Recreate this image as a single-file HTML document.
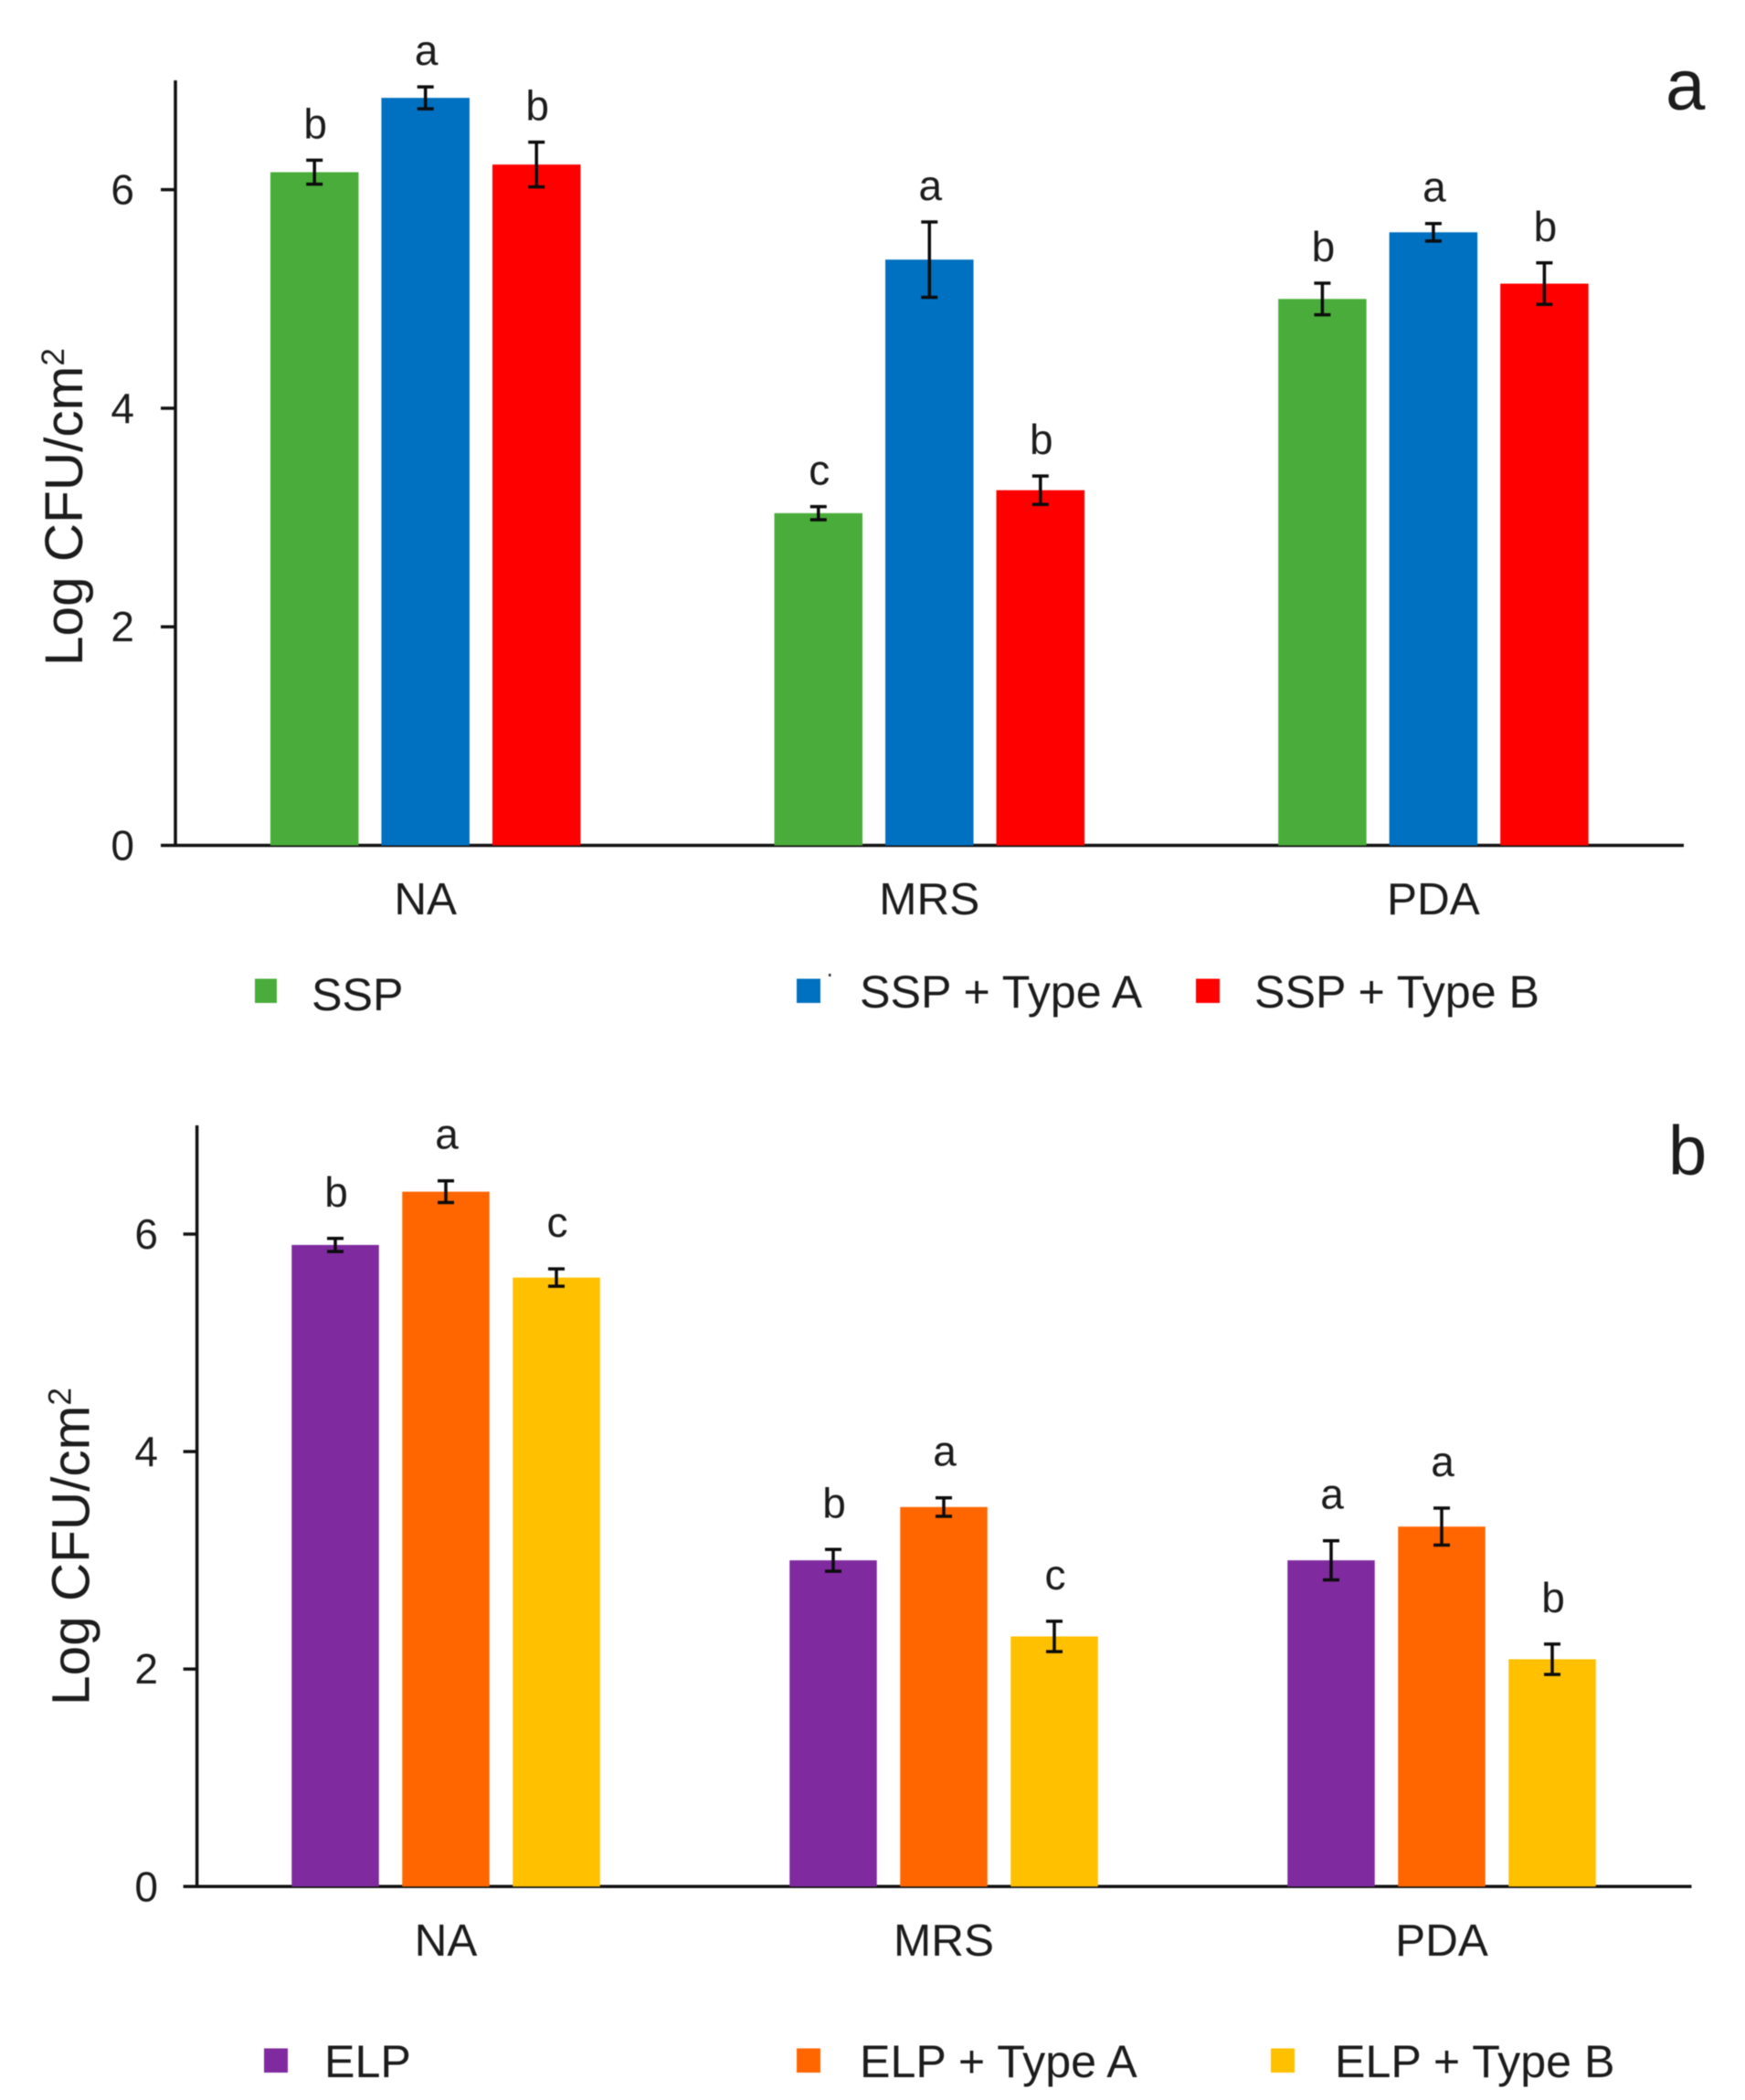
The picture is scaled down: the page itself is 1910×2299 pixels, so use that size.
<!DOCTYPE html>
<html lang="en">
<head>
<meta charset="utf-8">
<title>Log CFU/cm2 by culture medium</title>
<style>
  html, body { margin: 0; padding: 0; background: #fff; }
  #figure { display: block; width: 1910px; height: 2299px; filter: blur(0.6px); }
  text { font-family: "Liberation Sans", sans-serif; fill: #1c1c1c; }
  .axis { stroke: #111; stroke-width: 3.5; fill: none; }
  .err { stroke: #0c0c0c; stroke-width: 3.5; fill: none; }
  .s-ssp { fill: #4aad3b; }
  .s-ssp-a { fill: #0070c0; }
  .s-ssp-b { fill: #ff0000; }
  .s-elp { fill: #7f2a9f; }
  .s-elp-a { fill: #ff6600; }
  .s-elp-b { fill: #ffc000; }
</style>
</head>
<body>
<svg id="figure" xmlns="http://www.w3.org/2000/svg" width="1910" height="2299" viewBox="0 0 1910 2299">
  <rect x="0" y="0" width="1910" height="2299" fill="#fff"/>
  <g id="panel-a"></g>
  <g id="panel-b"></g>

  <text x="1823" y="119.5" font-size="78">a</text>
  <text x="1826" y="1285.5" font-size="76">b</text>

  <g>
    <rect class="s-ssp" x="279" y="1071.5" width="24" height="26.5"/>
    <text x="341" y="1106" font-size="50.2">SSP</text>
    <rect class="s-ssp-a" x="872" y="1071.5" width="26" height="26.5"/>
    <rect x="907" y="1066" width="2.5" height="3" fill="#333"/>
    <text x="941" y="1103" font-size="50.2">SSP + Type A</text>
    <rect class="s-ssp-b" x="1309" y="1071.5" width="26" height="26.5"/>
    <text x="1373" y="1103" font-size="50.2">SSP + Type B</text>
  </g>

  <g>
    <rect class="s-elp" x="289" y="2242.5" width="26" height="26.5"/>
    <text x="355" y="2274" font-size="50.2">ELP</text>
    <rect class="s-elp-a" x="872" y="2242.5" width="26" height="26.5"/>
    <text x="941" y="2274" font-size="50.2">ELP + Type A</text>
    <rect class="s-elp-b" x="1391" y="2242.5" width="26" height="26.5"/>
    <text x="1461" y="2274" font-size="50.2">ELP + Type B</text>
  </g>
</svg>

<script>
// Shared axis data
const categories = ["NA", "MRS", "PDA"];
const tickLabels = [0, 2, 4, 6];

// Panel a data (order: NA, MRS, PDA)
const sspValues = [6.16, 3.04, 5.0];
const sspErrors = [0.11, 0.06, 0.145];
const sspLetters = ["b", "c", "b"];
const sspTypeAValues = [6.84, 5.36, 5.61];
const sspTypeAErrors = [0.10, 0.345, 0.08];
const sspTypeALetters = ["a", "a", "a"];
const sspTypeBValues = [6.23, 3.25, 5.14];
const sspTypeBErrors = [0.205, 0.13, 0.19];
const sspTypeBLetters = ["b", "b", "b"];

// Panel b data (order: NA, MRS, PDA)
const elpValues = [5.9, 3.0, 3.0];
const elpErrors = [0.06, 0.10, 0.18];
const elpLetters = ["b", "b", "a"];
const elpTypeAValues = [6.39, 3.49, 3.31];
const elpTypeAErrors = [0.10, 0.085, 0.17];
const elpTypeALetters = ["a", "a", "a"];
const elpTypeBValues = [5.6, 2.3, 2.09];
const elpTypeBErrors = [0.08, 0.14, 0.14];
const elpTypeBLetters = ["c", "c", "b"];

const SVG_NS = "http://www.w3.org/2000/svg";

function make(parent, tag, attrs) {
  const el = document.createElementNS(SVG_NS, tag);
  for (const key in attrs) el.setAttribute(key, attrs[key]);
  parent.appendChild(el);
  return el;
}

function drawPanel(root, cfg) {
  const yScale = v => cfg.baseY - (v / cfg.yMax) * (cfg.baseY - cfg.topY);
  const groupCenter = i => cfg.firstCenter + i * cfg.groupStep;
  const barCenter = (g, s) => groupCenter(g) + (s - 1) * cfg.barStep;

  // axes
  const yAxis = make(root, "line", { class: "axis", x1: cfg.axisX, x2: cfg.axisX, y1: cfg.topY, y2: cfg.baseY + 1.5 });
  
  

  const xAxis = make(root, "line", { class: "axis", x1: cfg.axisX - cfg.tickLen, x2: cfg.axisEnd, y1: cfg.baseY, y2: cfg.baseY });
  
  

  tickLabels.forEach(t => {
    const y = yScale(t);
    if (t !== 0) {
      const tick = make(root, "line", { class: "axis", x1: cfg.axisX - cfg.tickLen, x2: cfg.axisX, y1: y, y2: y });
      
      
    }
    const label = make(root, "text", {
      x: cfg.tickLabelX, y: y + 16,
      "font-size": 46, "text-anchor": "end"
    });
    
    
    label.textContent = t;
  });

  // y title
  const title = make(root, "text", {
    transform: `translate(${cfg.titleX},${cfg.titleY}) rotate(-90)`,
    "font-size": 58.5
  });
  
  
  title.textContent = "Log CFU/cm";
  const sup = make(title, "tspan", { "font-size": 35, dy: -20 });
  sup.textContent = "2";

  // category labels
  categories.forEach((c, g) => {
    const label = make(root, "text", {
      x: groupCenter(g), y: cfg.catY,
      "font-size": 49.5, "text-anchor": "middle"
    });
    
    
    label.textContent = c;
  });

  // series
  cfg.series.forEach((series, s) => {
    series.values.forEach((v, g) => {
      const cx = barCenter(g, s);
      const top = yScale(v);
      const bar = make(root, "rect", {
        class: series.cls, x: cx - cfg.barWidth / 2, y: top,
        width: cfg.barWidth, height: cfg.baseY - top
      });
      
      

      const hi = yScale(v + series.errors[g]);
      const lo = yScale(v - series.errors[g]);
      const err = make(root, "path", {
        class: "err",
        d: `M${cx - 9},${hi}H${cx + 9}M${cx},${hi}V${lo}M${cx - 9},${lo}H${cx + 9}`
      });
      
      

      const letter = make(root, "text", {
        x: cx + 1, y: hi - cfg.letterGap,
        "font-size": 46, "text-anchor": "middle"
      });
      
      
      letter.textContent = series.letters[g];
    });
  });
}

drawPanel(document.getElementById("panel-a"), {
  yMax: 7, baseY: 925.5, topY: 88, axisX: 192, axisEnd: 1843, tickLen: 16,
  tickLabelX: 147, titleX: 90, titleY: 729, catY: 1001,
  firstCenter: 465.7, groupStep: 551.6, barStep: 121.5, barWidth: 96.5, letterGap: 24,
  series: [
    { cls: "s-ssp", values: sspValues, errors: sspErrors, letters: sspLetters },
    { cls: "s-ssp-a", values: sspTypeAValues, errors: sspTypeAErrors, letters: sspTypeALetters },
    { cls: "s-ssp-b", values: sspTypeBValues, errors: sspTypeBErrors, letters: sspTypeBLetters }
  ]
});

drawPanel(document.getElementById("panel-b"), {
  yMax: 7, baseY: 2065.3, topY: 1232, axisX: 215.6, axisEnd: 1851.5, tickLen: 15,
  tickLabelX: 173, titleX: 97.4, titleY: 1867, catY: 2141,
  firstCenter: 488, groupStep: 545, barStep: 121, barWidth: 95.5, letterGap: 35,
  series: [
    { cls: "s-elp", values: elpValues, errors: elpErrors, letters: elpLetters },
    { cls: "s-elp-a", values: elpTypeAValues, errors: elpTypeAErrors, letters: elpTypeALetters },
    { cls: "s-elp-b", values: elpTypeBValues, errors: elpTypeBErrors, letters: elpTypeBLetters }
  ]
});
</script>
</body>
</html>
